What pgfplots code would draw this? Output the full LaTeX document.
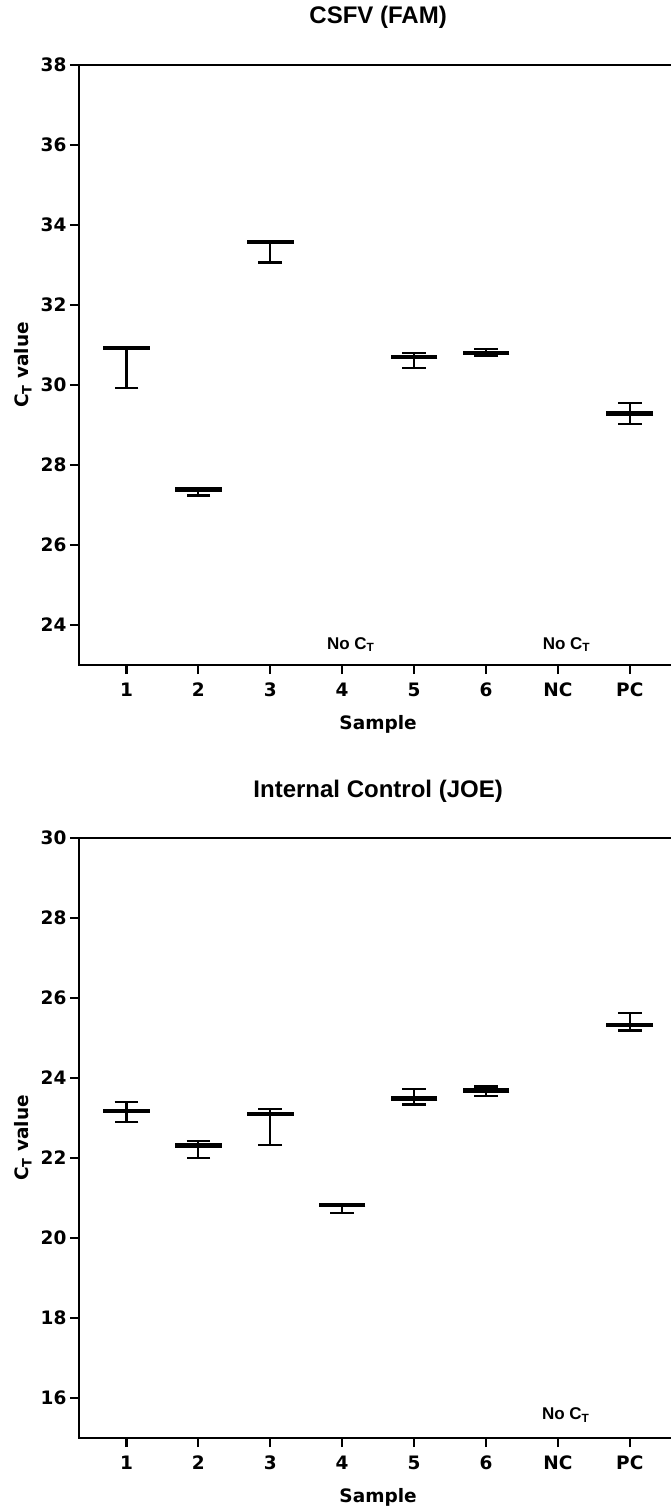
\documentclass[border=0pt]{standalone}
\usepackage{fontspec}
\setmainfont{DejaVu Sans}
\newfontfamily\arialfont{Liberation Sans}
\usepackage{pgfplots}
\usepackage{pgfplotstable}
\pgfplotsset{compat=1.18}

\pgfplotstableread{
x y ep em
1 30.93 0.02 1.01
2 27.39 0.03 0.15
3 33.58 0.02 0.52
5 30.70 0.11 0.27
6 30.80 0.10 0.08
8 29.29 0.27 0.26
}\famtable

\pgfplotstableread{
x y ep em
1 23.17 0.24 0.27
2 22.31 0.12 0.30
3 23.10 0.13 0.78
4 20.82 0.03 0.20
5 23.49 0.24 0.15
6 23.69 0.10 0.14
8 25.33 0.30 0.14
}\joetable

\tikzset{nocl/.style={font=\arialfont\fontsize{17}{18}\selectfont\bfseries, anchor=base}}

\pgfplotsset{
  ctstyle/.style={
    scale only axis, width=598.2pt, height=600pt,
    xmin=0.34, xmax=8.66,
    xtick={1,...,8}, xticklabels={1,2,3,4,5,6,NC,PC},
    ytick pos=left, xtick pos=left,
    tick align=outside, major tick length=9pt,
    axis line style={line width=2.4pt},
    every tick/.style={line width=2.2pt, black},
    /pgf/number format/assume math mode=true,
    ticklabel style={font=\fontsize{18.5}{20}\selectfont\bfseries},
    xticklabel style={yshift=-5pt},
    label style={font=\fontsize{18.5}{20}\selectfont\bfseries},
    xlabel={Sample},
    ylabel={C\textsubscript{T} value},
    title style={font=\arialfont\fontsize{24}{26}\selectfont\bfseries, at={(axis description cs:0.5,1)}, anchor=base, yshift=35pt},
    xlabel style={at={(axis description cs:0.5,0)}, anchor=base, yshift=-64pt},
    ylabel style={at={(axis description cs:-0.0852,0.5)}, anchor=base},
    clip=false,
  },
  ctplot/.style={only marks, black, mark=-, mark size=23.3pt, mark options={line width=4.4pt},
    error bars/.cd, y dir=both, y explicit, error mark=-,
    error mark options={rotate=90, line width=2.2pt, mark size=11.8pt},
    error bar style={line width=2.2pt}},
}

\begin{document}
\begin{tikzpicture}
\path[use as bounding box] (0,0) rectangle (671pt,-1511pt);

\begin{axis}[ctstyle, at={(79pt,-65pt)}, anchor=north west,
  ymin=23, ymax=38, ytick={24,26,...,38},
  title={CSFV (FAM)}]
\addplot[ctplot] table[x=x, y=y, y error plus=ep, y error minus=em] {\famtable};
\node[nocl] at (axis cs:4.12,23.4) {No C\textsubscript{T}};
\node[nocl] at (axis cs:7.12,23.4) {No C\textsubscript{T}};
\end{axis}

\begin{axis}[ctstyle, at={(79pt,-838pt)}, anchor=north west,
  ymin=15, ymax=30, ytick={16,18,...,30},
  title={Internal Control (JOE)}]
\addplot[ctplot] table[x=x, y=y, y error plus=ep, y error minus=em] {\joetable};
\node[nocl] at (axis cs:7.11,15.46) {No C\textsubscript{T}};
\end{axis}
\end{tikzpicture}
\end{document}
